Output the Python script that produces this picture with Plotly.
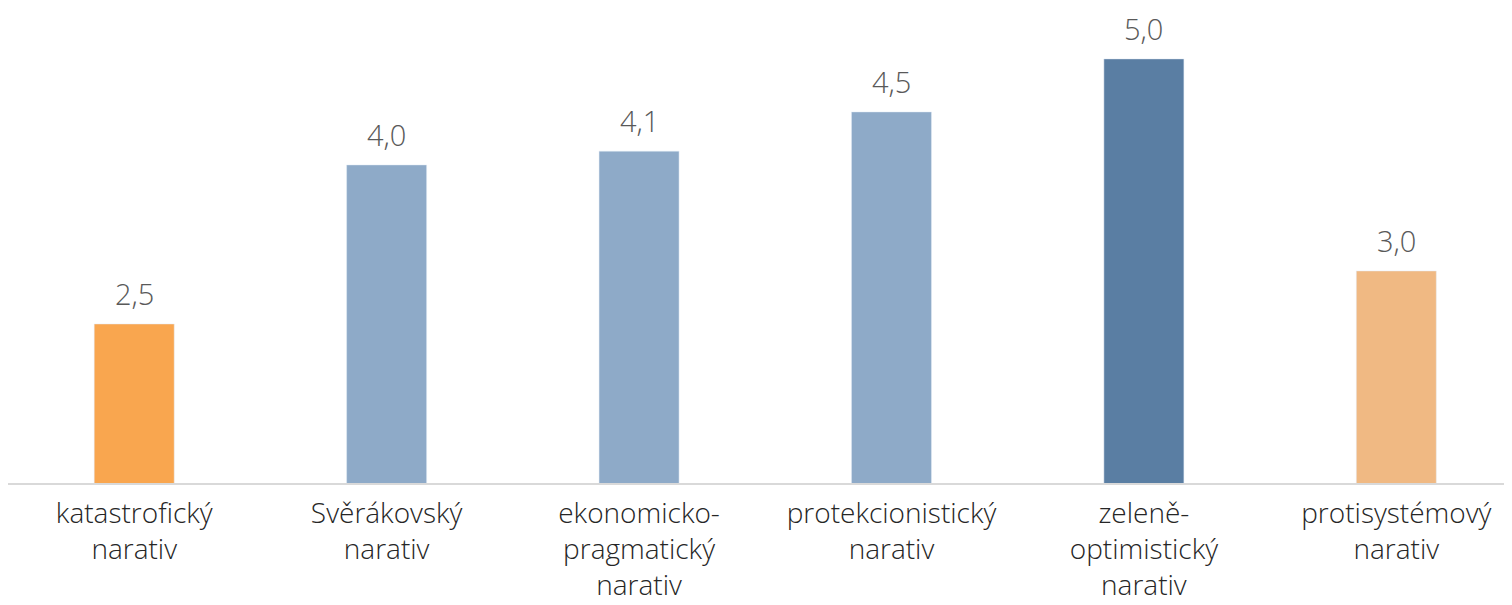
import plotly.graph_objects as go

# categories and values
narativy = ["katastrofický<br>narativ", "Svěrákovský<br>narativ", "ekonomicko-<br>pragmatický<br>narativ",
            "protekcionistický<br>narativ", "zeleně-<br>optimistický<br>narativ", "protisystémový<br>narativ"]
hodnoty = [2.5, 4.0, 4.13, 4.5, 5.0, 3.0]
barvy = ["#F9A64F", "#8EAAC8", "#8EAAC8", "#8EAAC8", "#5A7EA3", "#F0B983"]

fig = go.Figure(go.Bar(x=narativy, y=hodnoty, marker_color=barvy, width=0.317, cliponaxis=False))

# value labels sit a bit higher above the bars than plotly's outside text
for n, v in zip(narativy, hodnoty):
    fig.add_annotation(x=n, y=v, text=f"{v:.1f}".replace(".", ","), showarrow=False,
                       yanchor="bottom", yshift=9,
                       font=dict(size=29, color="#595959", family="Open Sans", weight=300))

# page body has an 8px margin, so the figure sits 8px right/down of the window corner
fig.update_layout(width=1512, height=605, plot_bgcolor="white", paper_bgcolor="white",
                  margin=dict(l=0, r=0, t=0, b=130), showlegend=False,
                  font=dict(family="Open Sans", size=28, color="#262626", weight=300))
fig.update_xaxes(range=[-0.5, 5.49], showline=True, linecolor="#D9D9D9", linewidth=2,
                 ticks="", ticklabelstandoff=4,
                 tickfont=dict(size=28, color="#262626", family="Open Sans", weight=300))
fig.update_yaxes(range=[1, 5.48], visible=False, showgrid=False)

fig.write_html("out.html")
